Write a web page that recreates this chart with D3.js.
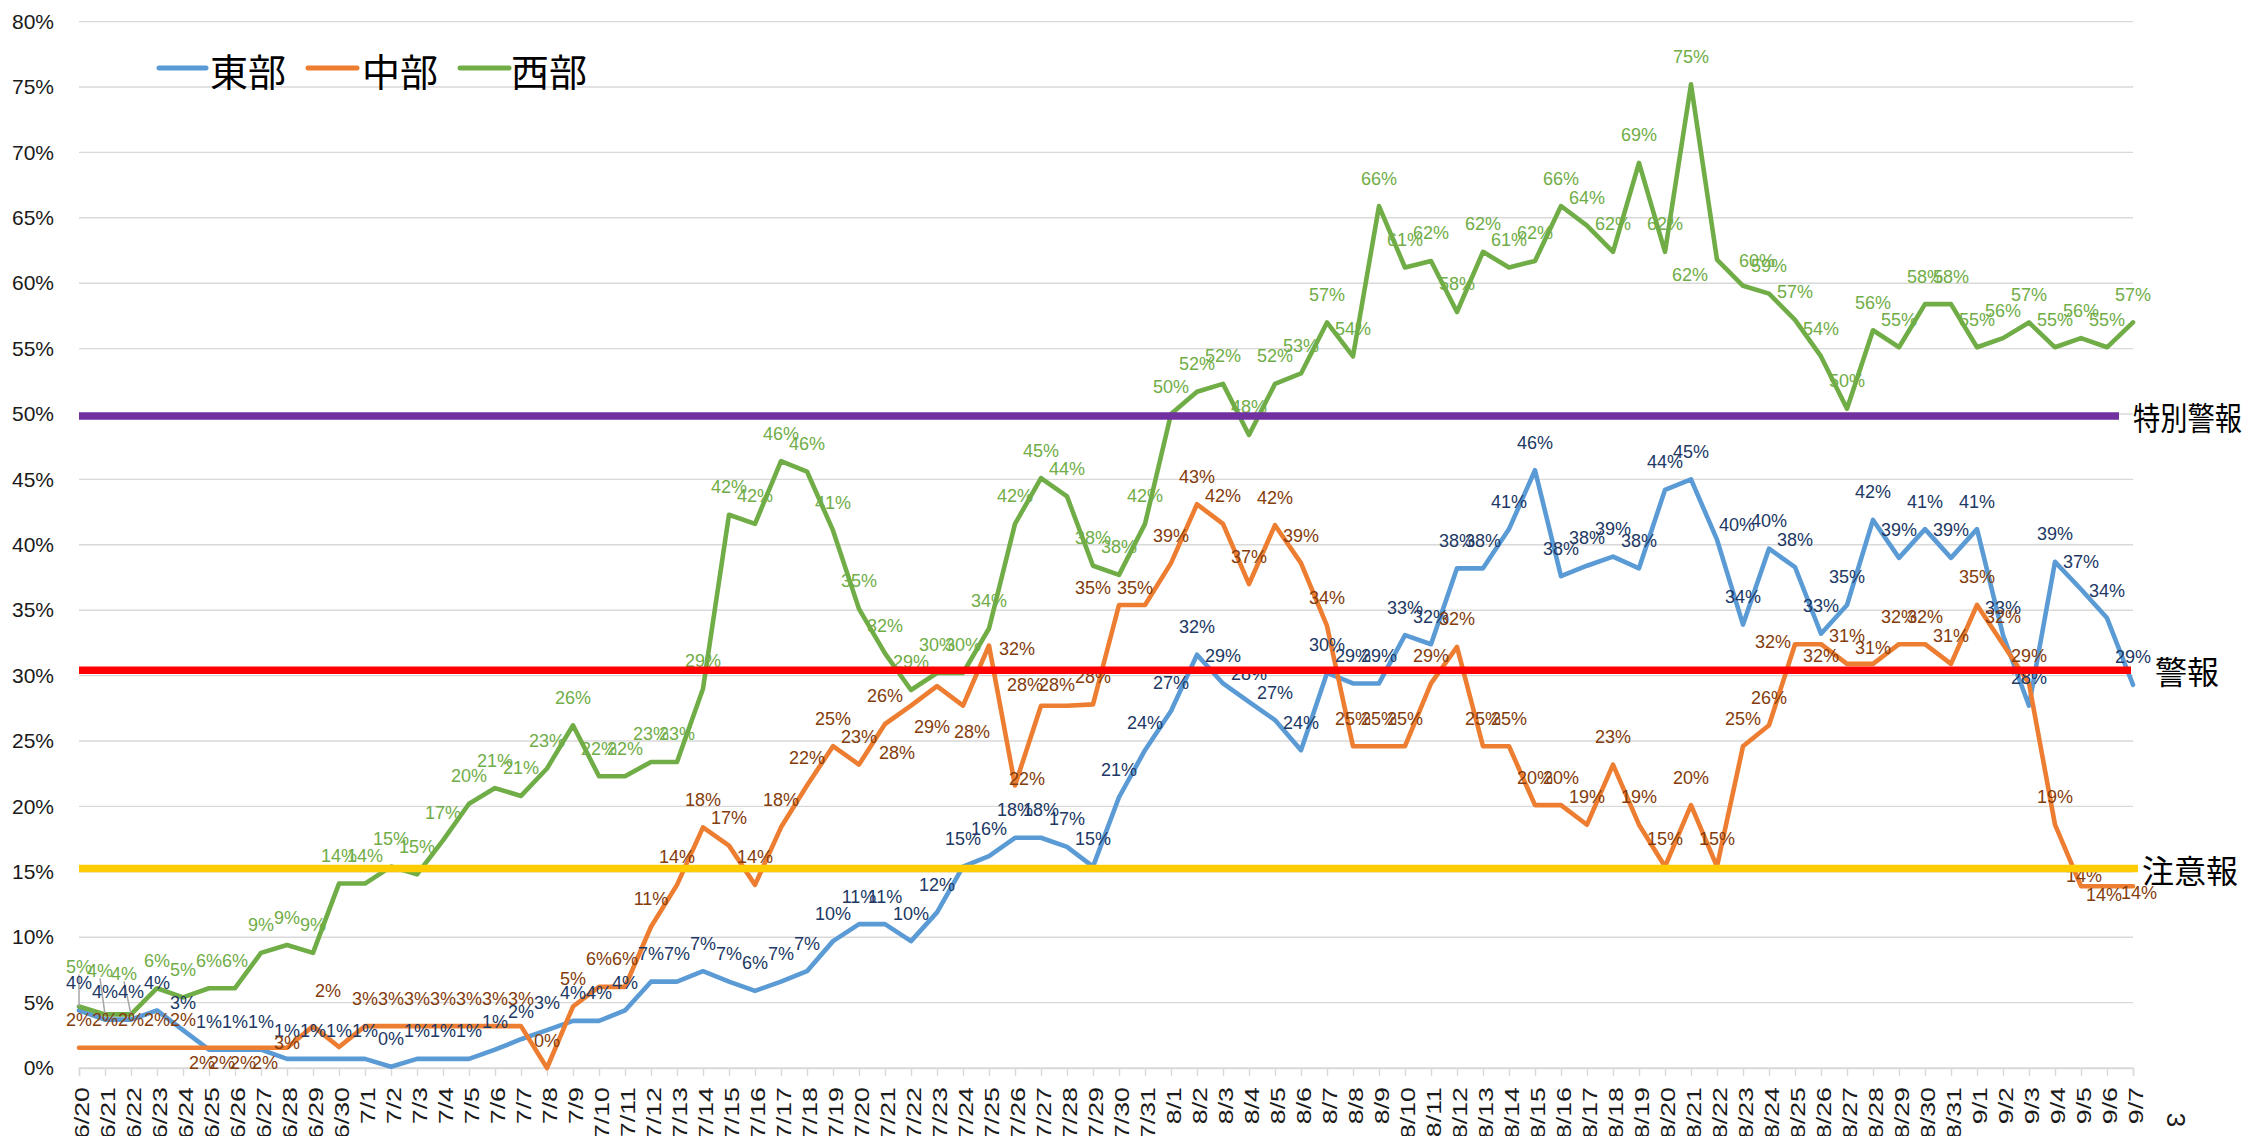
<!DOCTYPE html>
<html><head><meta charset="utf-8">
<script src="https://cdn.jsdelivr.net/npm/d3@7"></script>
<style>html,body{margin:0;padding:0;background:#fff;overflow:hidden}</style>
</head><body><svg id="c" width="2246" height="1136"></svg>
<script>
// ---------------- data ----------------
const dates = ["6/20","6/21","6/22","6/23","6/24","6/25","6/26","6/27","6/28","6/29","6/30",
"7/1","7/2","7/3","7/4","7/5","7/6","7/7","7/8","7/9","7/10","7/11","7/12","7/13","7/14","7/15","7/16","7/17","7/18","7/19","7/20","7/21","7/22","7/23","7/24","7/25","7/26","7/27","7/28","7/29","7/30","7/31",
"8/1","8/2","8/3","8/4","8/5","8/6","8/7","8/8","8/9","8/10","8/11","8/12","8/13","8/14","8/15","8/16","8/17","8/18","8/19","8/20","8/21","8/22","8/23","8/24","8/25","8/26","8/27","8/28","8/29","8/30","8/31",
"9/1","9/2","9/3","9/4","9/5","9/6","9/7"];

const seriesNames = ["東部", "中部", "西部"];

const east = [4.4,3.7,3.7,4.4,2.9,1.4,1.4,1.4,0.7,0.7,0.7,
0.7,0.1,0.7,0.7,0.7,1.4,2.2,2.9,3.6,3.6,4.4,6.6,6.6,7.4,6.6,5.9,6.6,7.4,9.7,11.0,11.0,9.7,11.9,15.4,16.2,17.6,17.6,16.9,15.4,20.7,24.3,
27.3,31.6,29.4,28.0,26.6,24.3,30.2,29.4,29.4,33.1,32.4,38.2,38.2,41.2,45.7,37.6,38.4,39.1,38.2,44.2,45.0,40.4,33.9,39.7,38.3,33.2,35.4,41.9,39.0,41.2,39.0,
41.2,33.1,27.7,38.7,36.6,34.4,29.3];

const central = [1.55,1.55,1.55,1.55,1.55,1.55,1.55,1.55,1.55,3.2,1.6,
3.2,3.2,3.2,3.2,3.2,3.2,3.2,0.0,4.7,6.2,6.2,10.8,14.0,18.4,17.0,14.0,18.4,21.6,24.6,23.2,26.3,27.7,29.2,27.7,32.3,21.6,27.7,27.7,27.8,35.4,35.4,
38.6,43.1,41.6,37.0,41.5,38.6,33.8,24.6,24.6,24.6,29.4,32.2,24.6,24.6,20.1,20.1,18.6,23.2,18.6,15.4,20.1,15.4,24.6,26.2,32.4,32.4,30.9,30.9,32.4,32.4,30.9,
35.4,32.4,29.4,18.6,13.9,13.9,13.9];

const west = [4.7,4.1,4.1,6.1,5.4,6.1,6.1,8.8,9.4,8.8,14.1,
14.1,15.4,14.8,17.4,20.2,21.4,20.8,22.9,26.2,22.3,22.3,23.4,23.4,29.0,42.3,41.6,46.4,45.6,41.1,35.1,31.7,28.9,30.2,30.2,33.6,41.6,45.1,43.7,38.4,37.7,41.6,
50.0,51.7,52.3,48.4,52.3,53.1,57.0,54.4,65.9,61.2,61.7,57.8,62.4,61.2,61.7,65.9,64.4,62.4,69.2,62.4,75.2,61.8,59.8,59.2,57.2,54.4,50.4,56.4,55.1,58.4,58.4,
55.1,55.8,57.0,55.1,55.8,55.1,57.0];

const yTicks = [0,5,10,15,20,25,30,35,40,45,50,55,60,65,70,75,80];
const thresholdValues = [49.85, 30.4, 15.25];
const thresholdLabels = ["特別警報", "警報", "注意報"];
const cornerText = "3";

// ---------------- styles / layout ----------------
const lineColors = ["#5B9BD5", "#ED7D31", "#70AD47"];
const labelColors = ["#203864", "#843C0C", "#70AD47"];
const thresholdColors = ["#7030A0", "#FF0000", "#FFCC00"];
const thresholdEnds = [2119, 2131, 2138];
const thresholdTextX = [2133, 2155, 2142];
const thresholdTextLen = [109, null, null];
const legendLines = [[159, 206], [308, 357], [460, 509]];
const legendTextX = [210, 362, 511];
// label nudges (dx, dy) relative to default placement
const nudges = [
  {63: [20, -15]},
  {5:[-7,15],6:[-13,15],7:[-18,15],8:[-22,15],9:[-26,16],10:[-11,-57],32:[-14,47],33:[-5,40],34:[9,26],35:[28,3],36:[12,-7],37:[-16,-21],38:[-10,-21],40:[-26,-17],41:[-10,-17],66:[-22,-3],67:[0,11],69:[0,-16],77:[3,-11],78:[-3,8],79:[6,6]},
  {0:[0,-40],1:[-5,-44],2:[-7,-41],63:[-27,15],64:[14,-25]}
];
const leaderIdx = [[], [], [0, 1, 2]];

const NUMFONT = "'Liberation Sans', Arial, sans-serif";
const CJKFONT = "'Noto Sans CJK JP', 'Noto Sans CJK SC', sans-serif";

const X0 = 79, X1 = 2133, Y0 = 1068, Y1 = 21.6;
const svg = d3.select("#c");
svg.append("rect").attr("width", 2246).attr("height", 1136).attr("fill", "#fff");

const x = d3.scalePoint().domain(dates).range([X0, X1]);
const y = d3.scaleLinear().domain([0, 80]).range([Y0, Y1]);

// gridlines
svg.append("g").selectAll("line").data(yTicks).join("line")
  .attr("x1", X0).attr("x2", X1).attr("y1", d => y(d)).attr("y2", d => y(d))
  .attr("stroke", "#D9D9D9").attr("stroke-width", 1.4);

// y axis
const ya = svg.append("g").attr("transform", "translate(54,0)")
  .call(d3.axisLeft(y).tickValues(yTicks).tickSize(0).tickPadding(0).tickFormat(d => d + "%"));
ya.select(".domain").remove();
ya.selectAll("text").attr("font-family", NUMFONT).attr("font-size", 21).attr("fill", "#1a1a1a");

// x axis
const xa = svg.append("g").attr("transform", `translate(0,${Y0})`)
  .call(d3.axisBottom(x).tickSize(8).tickPadding(0));
xa.select(".domain").attr("stroke", "#D9D9D9").attr("stroke-width", 1.4);
xa.selectAll(".tick line").attr("stroke", "#D9D9D9").attr("stroke-width", 1.4);
xa.selectAll(".tick text")
  .attr("x", 0).attr("y", 0).attr("dy", "0.45em")
  .attr("text-anchor", "end")
  .attr("transform", "translate(0,19) rotate(-90) scale(1.34,1)")
  .attr("font-family", NUMFONT).attr("font-size", 20).attr("fill", "#1a1a1a");

// series
const allSeries = [east, central, west];
const line = d3.line().x((d, i) => x(dates[i])).y(d => y(d));
allSeries.forEach((s, k) => {
  svg.append("path").datum(s).attr("d", line).attr("fill", "none")
    .attr("stroke", lineColors[k]).attr("stroke-width", 4.6)
    .attr("stroke-linejoin", "round").attr("stroke-linecap", "round");
});

// leader lines
allSeries.forEach((s, k) => {
  leaderIdx[k].forEach(i => {
    const n = nudges[k][i] || [0, -28];
    svg.append("line")
      .attr("x1", x(dates[i]) + n[0]).attr("y1", y(s[i]) + n[1] + 8)
      .attr("x2", x(dates[i])).attr("y2", y(s[i]))
      .attr("stroke", "#A6A6A6").attr("stroke-width", 1.5);
  });
});

// data labels
allSeries.forEach((s, k) => {
  svg.append("g").selectAll("text").data(s).join("text")
    .attr("x", (d, i) => x(dates[i]) + (nudges[k][i] ? nudges[k][i][0] : 0))
    .attr("y", (d, i) => y(d) + (nudges[k][i] ? nudges[k][i][1] : -28) + 6.5)
    .attr("text-anchor", "middle")
    .attr("font-family", NUMFONT).attr("font-size", 18)
    .attr("fill", labelColors[k])
    .text(d => Math.round(d) + "%");
});

// threshold lines + labels
thresholdValues.forEach((v, k) => {
  svg.append("line").attr("x1", X0).attr("x2", thresholdEnds[k])
    .attr("y1", y(v)).attr("y2", y(v))
    .attr("stroke", thresholdColors[k]).attr("stroke-width", 7.5);
  const t = svg.append("text").attr("x", thresholdTextX[k]).attr("y", y(v))
    .attr("dominant-baseline", "central")
    .attr("font-family", CJKFONT).attr("font-size", 32).attr("fill", "#000")
    .text(thresholdLabels[k]);
  if (thresholdTextLen[k]) t.attr("textLength", thresholdTextLen[k]).attr("lengthAdjust", "spacingAndGlyphs");
});

// legend
seriesNames.forEach((name, k) => {
  svg.append("line").attr("x1", legendLines[k][0]).attr("x2", legendLines[k][1])
    .attr("y1", 68).attr("y2", 68)
    .attr("stroke", lineColors[k]).attr("stroke-width", 5).attr("stroke-linecap", "round");
  svg.append("text").attr("x", legendTextX[k]).attr("y", 69)
    .attr("dominant-baseline", "central")
    .attr("font-family", CJKFONT).attr("font-size", 38).attr("fill", "#000")
    .text(name);
});

// corner glyph
svg.append("text").attr("transform", "translate(2176,1120) rotate(90)")
  .attr("text-anchor", "middle").attr("dominant-baseline", "central")
  .attr("font-family", NUMFONT).attr("font-size", 26).attr("fill", "#1a1a1a")
  .text(cornerText);
</script>
</body></html>
